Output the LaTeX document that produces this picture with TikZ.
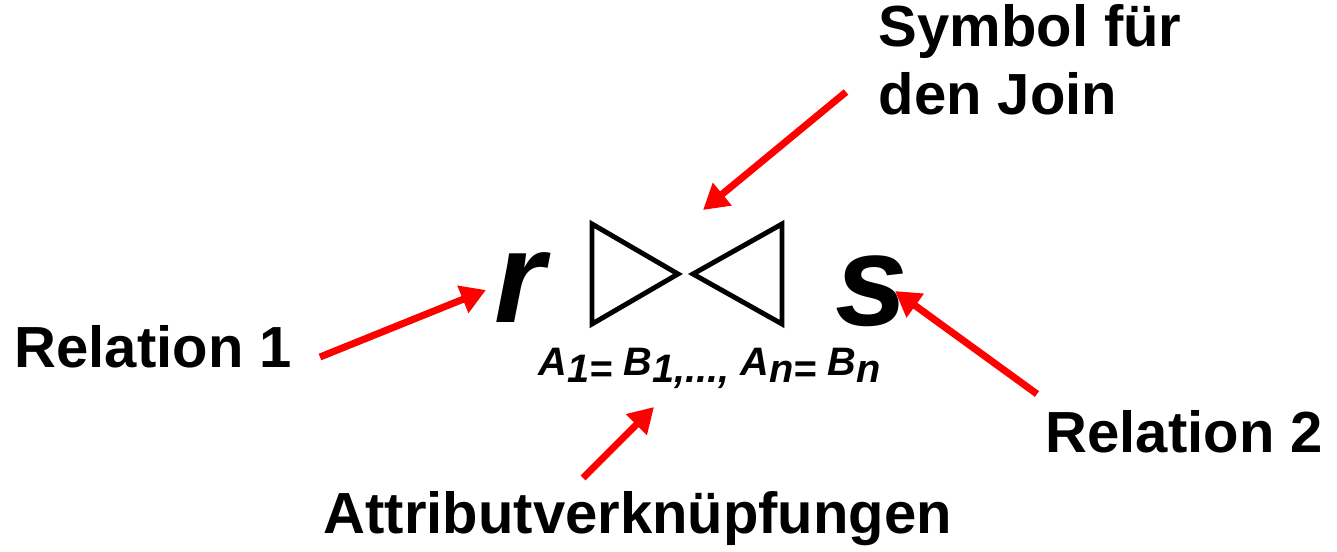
\documentclass[tikz,border=0pt]{standalone}
\usepackage{fontspec}
\setmainfont{Liberation Sans}
\usepackage{xcolor}
\usepackage{tikz}
\usetikzlibrary{arrows.meta, positioning}

\begin{document}
\begin{tikzpicture}[
    lbl/.style={font=\fontsize{16.5}{19.6}\selectfont\bfseries, inner sep=0pt, anchor=base west, align=left},
    rel/.style={font=\fontsize{37}{40}\selectfont\bfseries\itshape, inner sep=0pt, anchor=base west},
    pointer/.style={red, line width=2pt, -{Triangle[length=0.25cm, width=0.28cm]}}
  ]
  \useasboundingbox (0,0) rectangle (13.37,5.51);

  % relations
  \node[rel] (r) at (4.94,2.29) {r};
  \node[rel] (s) at (8.35,2.26) {s};

  % join symbol
  \begin{scope}[line width=1.4pt, line join=miter]
    \draw (5.92,3.27) -- (5.92,2.27) -- (6.78,2.77) -- cycle;
    \draw (7.82,3.27) -- (7.82,2.27) -- (6.93,2.77) -- cycle;
  \end{scope}
  \coordinate (join) at (6.86,2.77);

  % join condition
  \node[font=\fontsize{11.3}{13}\selectfont\bfseries\itshape, inner sep=0pt, anchor=base west] (cond) at (5.38,1.76)
    {A\lower2pt\hbox{1=} B\lower2pt\hbox{1,...,} A\lower2pt\hbox{n=} B\lower2pt\hbox{n}};

  % labels
  \node[lbl] (rel1) at (0.14,1.84) {Relation 1};
  \node[lbl] (rel2) at (10.45,0.99) {Relation 2};
  \node[lbl] (attr) at (3.23,0.18) {Attributverknüpfungen};
  \node[lbl] (sym) at (8.78,4.36) {Symbol für\\den Join};

  % arrow ends
  \coordinate (t1) at (3.20,1.94);  \coordinate (h1) at (4.86,2.61);
  \coordinate (t2) at (8.46,4.59);  \coordinate (h2) at (7.03,3.41);
  \coordinate (t3) at (5.83,0.73);  \coordinate (h3) at (6.54,1.44);
  \coordinate (t4) at (10.37,1.57); \coordinate (h4) at (8.95,2.60);

  \draw[pointer] (t1) -- (h1);
  \draw[pointer] (t2) -- (h2);
  \draw[pointer] (t3) -- (h3);
  \draw[pointer] (t4) -- (h4);
\end{tikzpicture}
\end{document}
